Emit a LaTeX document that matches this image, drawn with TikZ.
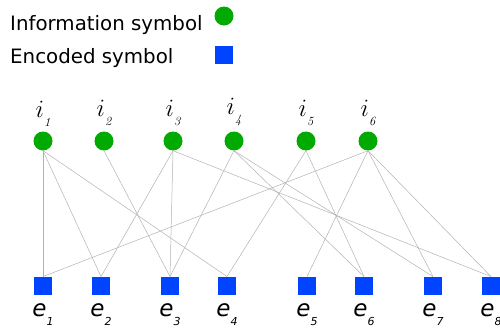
\documentclass[tikz,border=0pt]{standalone}
\usepackage{fontspec}
\setsansfont{DejaVu Sans}
\usetikzlibrary{positioning}
\definecolor{infogreen}{RGB}{0,170,0}
\definecolor{encblue}{RGB}{0,68,255}
\tikzset{info node/.style={circle,fill=infogreen,minimum size=19pt,inner sep=0pt},
  enc node/.style={rectangle,fill=encblue,minimum size=18.5pt,inner sep=0pt},
  sym label/.style={inner sep=0pt},
  legend text/.style={anchor=base west,inner sep=0pt,font=\sffamily\fontsize{19.8}{24}\selectfont},}
\newcommand{\isym}[1]{{\fontsize{27}{31}\selectfont$i$}\raisebox{-9pt}{\fontsize{12.5}{13}\selectfont\itshape #1}}
\newcommand{\esym}[1]{{\fontsize{23}{27}\selectfont\sffamily\itshape e}\raisebox{-9pt}{\fontsize{11}{11}\selectfont\sffamily\itshape #1}}
\begin{document}
\begin{tikzpicture}[x=1pt,y=-1pt]
    \useasboundingbox (0,0) rectangle (500,327);

    % legend
    \node[legend text] (infotext) at (10,30) {Information symbol};
    \node[info node] (infokey) at (224,16) {};
    \node[legend text] (enctext) at (10,63) {Encoded symbol};
    \node[enc node] (enckey) at (224,55) {};

    % information symbols
    \node[info node] (i1) at (43,141) {};
    \node[info node] (i2) at (104,141) {};
    \node[info node] (i3) at (173,141) {};
    \node[info node] (i4) at (234,141) {};
    \node[info node] (i5) at (306,141) {};
    \node[info node] (i6) at (368,141) {};
    \node[sym label] (li1) [above=5pt of i1] {\isym{1}};
    \node[sym label] (li2) [above=5pt of i2] {\isym{2}};
    \node[sym label] (li3) [above=5pt of i3] {\isym{3}};
    \node[sym label] (li4) [above=5pt of i4] {\isym{4}};
    \node[sym label] (li5) [above=5pt of i5] {\isym{5}};
    \node[sym label] (li6) [above=5pt of i6] {\isym{6}};

    % encoded symbols
    \node[enc node] (e1) at (43,286) {};
    \node[enc node] (e2) at (101,286) {};
    \node[enc node] (e3) at (170,286) {};
    \node[enc node] (e4) at (227,286) {};
    \node[enc node] (e5) at (307,286) {};
    \node[enc node] (e6) at (364,286) {};
    \node[enc node] (e7) at (433,286) {};
    \node[enc node] (e8) at (491,286) {};
    \node[sym label] (le1) [below=8pt of e1] {\esym{1}};
    \node[sym label] (le2) [below=8pt of e2] {\esym{2}};
    \node[sym label] (le3) [below=8pt of e3] {\esym{3}};
    \node[sym label] (le4) [below=8pt of e4] {\esym{4}};
    \node[sym label] (le5) [below=8pt of e5] {\esym{5}};
    \node[sym label] (le6) [below=8pt of e6] {\esym{6}};
    \node[sym label] (le7) [below=8pt of e7] {\esym{7}};
    \node[sym label] (le8) [below=8pt of e8] {\esym{8}};

    \path[draw=gray!60,line width=0.5pt]
    (i1.south) edge (e1.north)
    (i1.south) edge (e2.north)
    (i1.south) edge (e4.north)
    (i2.south) edge (e3.north)
    (i3.south) edge (e2.north)
    (i3.south) edge (e3.north)
    (i3.south) edge (e8.north)
    (i4.south) edge (e3.north)
    (i4.south) edge (e6.north)
    (i4.south) edge (e7.north)
    (i5.south) edge (e4.north)
    (i5.south) edge (e6.north)
    (i6.south) edge (e1.north)
    (i6.south) edge (e5.north)
    (i6.south) edge (e7.north)
    (i6.south) edge (e8.north)
    ;
\end{tikzpicture}
\end{document}
